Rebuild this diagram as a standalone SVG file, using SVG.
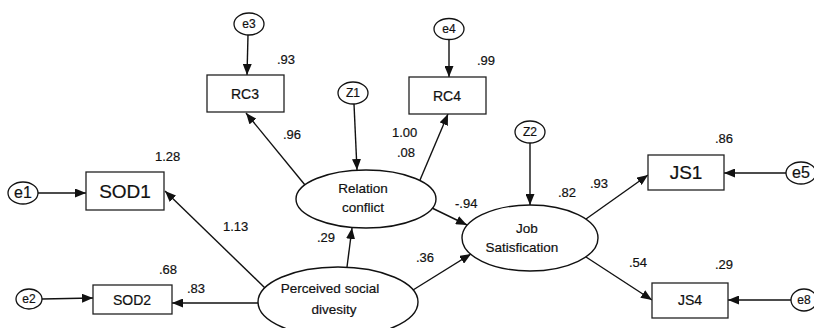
<svg xmlns="http://www.w3.org/2000/svg" width="814" height="328" viewBox="0 0 814 328">
  <style>
    text { font-family: "Liberation Sans", Arial, sans-serif; fill: #111; stroke: #111; stroke-width: 0.2; }
    .box { fill: #fff; stroke: #222; stroke-width: 1.3; }
    .lat { fill: #fff; stroke: #111; stroke-width: 1.4; }
    .err { fill: #fff; stroke: #111; stroke-width: 1.3; }
    .edge { stroke: #111; stroke-width: 1.4; fill: none; marker-end: url(#head); }
    .ind { font-size: 14px; text-anchor: middle; }
    .big { font-size: 19px; text-anchor: middle; }
    .lv { font-size: 13.5px; text-anchor: middle; }
    .e { font-size: 12px; text-anchor: middle; }
    .ebig { font-size: 16px; text-anchor: middle; }
    .num { font-size: 13px; }
  </style>
  <defs>
    <marker id="head" markerUnits="userSpaceOnUse" markerWidth="11" markerHeight="9" refX="11" refY="4.5" orient="auto">
      <path d="M0,0 L11,4.5 L0,9 z" fill="#111"/>
    </marker>
  </defs>

  <rect width="814" height="328" fill="#fff"/>

  <!-- paths -->
  <g id="connectors">
    <line class="edge" x1="248" y1="35" x2="247" y2="75"/>
    <line class="edge" x1="449" y1="40" x2="449" y2="77"/>
    <line class="edge" x1="354" y1="104" x2="357" y2="170"/>
    <line class="edge" x1="530" y1="143" x2="530" y2="205"/>
    <line class="edge" x1="38" y1="193" x2="86" y2="193"/>
    <line class="edge" x1="42" y1="299" x2="93" y2="298"/>
    <line class="edge" x1="786" y1="173" x2="724" y2="173"/>
    <line class="edge" x1="791" y1="300" x2="728" y2="300"/>
    <line class="edge" x1="305" y1="185" x2="246" y2="113"/>
    <line class="edge" x1="420" y1="180" x2="448" y2="114"/>
    <line class="edge" x1="432" y1="208" x2="467" y2="225"/>
    <line class="edge" x1="413" y1="290" x2="471" y2="254"/>
    <line class="edge" x1="347" y1="267" x2="352" y2="228"/>
    <line class="edge" x1="265" y1="288" x2="165" y2="191"/>
    <line class="edge" x1="259" y1="303" x2="172" y2="303"/>
    <line class="edge" x1="586" y1="219" x2="648" y2="175"/>
    <line class="edge" x1="586" y1="257" x2="652" y2="300"/>
  </g>

  <!-- observed indicators -->
  <g id="RC3"><rect class="box" x="207" y="75" width="77" height="37"/><text class="ind" x="245" y="99">RC3</text></g>
  <g id="RC4"><rect class="box" x="409" y="77" width="77" height="37"/><text class="ind" x="447" y="101">RC4</text></g>
  <g id="SOD1"><rect class="box" x="86" y="172" width="78" height="38"/><text class="big" x="125" y="198">SOD1</text></g>
  <g id="SOD2"><rect class="box" x="93" y="285" width="79" height="29"/><text class="ind" x="132" y="305">SOD2</text></g>
  <g id="JS1"><rect class="box" x="648" y="155" width="76" height="35"/><text class="big" x="686" y="179">JS1</text></g>
  <g id="JS4"><rect class="box" x="652" y="283" width="76" height="35"/><text class="ind" x="690" y="305">JS4</text></g>

  <!-- latent variables -->
  <g id="relation-conflict">
    <ellipse class="lat" cx="366" cy="199" rx="70" ry="29"/>
    <text class="lv" x="363" y="193">Relation</text>
    <text class="lv" x="363" y="212">conflict</text>
  </g>
  <g id="job-satisfication">
    <ellipse class="lat" cx="530" cy="238" rx="68" ry="33"/>
    <text class="lv" x="527" y="233">Job</text>
    <text class="lv" x="522" y="252">Satisfication</text>
  </g>
  <g id="perceived-social-divesity">
    <ellipse class="lat" cx="338" cy="302" rx="80" ry="35"/>
    <text class="lv" x="330" y="293">Perceived social</text>
    <text class="lv" x="334" y="314">divesity</text>
  </g>

  <!-- error and disturbance terms -->
  <g id="e3"><ellipse class="err" cx="249" cy="24" rx="15" ry="11"/><text class="e" x="249" y="28">e3</text></g>
  <g id="e4"><ellipse class="err" cx="449" cy="29" rx="15" ry="10.5"/><text class="e" x="449" y="33">e4</text></g>
  <g id="Z1"><ellipse class="err" cx="353" cy="93" rx="15" ry="11"/><text class="e" x="353" y="97">Z1</text></g>
  <g id="Z2"><ellipse class="err" cx="530" cy="132" rx="15" ry="11"/><text class="e" x="530" y="136">Z2</text></g>
  <g id="e1"><ellipse class="err" cx="23" cy="193" rx="15" ry="11"/><text class="ebig" x="23" y="198">e1</text></g>
  <g id="e2"><ellipse class="err" cx="29" cy="299" rx="13" ry="10"/><text class="e" x="29" y="303">e2</text></g>
  <g id="e5"><ellipse class="err" cx="801" cy="173" rx="15" ry="11"/><text class="ebig" x="801" y="178">e5</text></g>
  <g id="e8"><ellipse class="err" cx="804" cy="300" rx="13" ry="11"/><text class="e" x="804" y="304">e8</text></g>

  <!-- estimates -->
  <g id="estimates" class="num">
    <text x="277" y="64">.93</text>
    <text x="477" y="65">.99</text>
    <text x="283" y="139">.96</text>
    <text x="392" y="137">1.00</text>
    <text x="397" y="157">.08</text>
    <text x="155" y="161">1.28</text>
    <text x="223" y="231">1.13</text>
    <text x="317" y="242">.29</text>
    <text x="159" y="274">.68</text>
    <text x="187" y="293">.83</text>
    <text x="416" y="262">.36</text>
    <text x="455" y="208">-.94</text>
    <text x="558" y="197">.82</text>
    <text x="590" y="188">.93</text>
    <text x="715" y="143">.86</text>
    <text x="629" y="267">.54</text>
    <text x="715" y="269">.29</text>
  </g>
</svg>
